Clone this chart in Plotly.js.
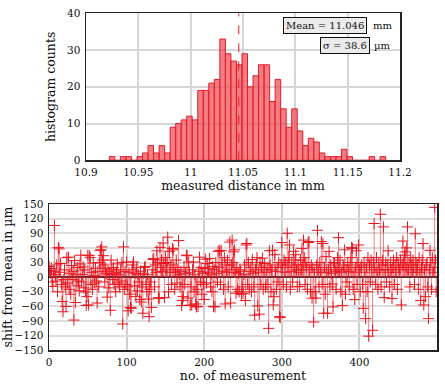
<!DOCTYPE html>
<html>
<head>
<meta charset="utf-8">
<script src="https://cdn.plot.ly/plotly-3.0.1.min.js"></script>
<style>html,body{margin:0;padding:0;background:#fff;}#chart{width:445px;height:386px;}</style>
</head>
<body>
<div id="chart"></div>
<script>
// Histogram of measured distances (mm)
const binStart = 10.9223;
const binWidth = 0.00528;
const counts = [1,0,1,1,0,1,2,4,2,4,2,9,10,11,12,11,19,19,21,22,33,29,27,26,29,20,23,26,26,16,22,14,9,14,8,4,6,5,2,1,1,1,3,1,0,0,0,1,0,1];
const meanValue = 11.046;
const sigmaValue = 38.6;
const histXTicks = [10.9, 10.95, 11, 11.05, 11.1, 11.15, 11.2];
const histXTickText = ['10.9', '10.95', '11', '11.05', '11.1', '11.15', '11.2'];

// Shift from mean (µm) for each measurement
const shifts = [
22,14,8,18,-10,-19,12,106,5,-8,25,-30,61,58,10,28,-15,-50,-71,-5,
15,-20,-60,40,-12,41,-25,8,-35,24,-5,12,-88,34,-52,6,-18,20,-8,-28,
27,45,-10,5,21,-22,15,-30,-58,-40,45,-57,44,40,-15,10,-25,29,3,-12,
18,-8,-53,12,-20,30,55,56,62,35,44,25,-10,18,8,-41,12,-22,5,-68,
35,15,-5,20,-15,8,-30,10,27,-12,5,-20,15,-8,30,-96,62,-25,12,-15,
31,-20,-69,10,-35,-62,-64,15,25,31,-18,8,-40,20,-28,5,-10,-46,12,-51,
-20,-74,8,20,22,-15,-30,5,-45,-81,-25,-10,-62,15,36,38,-20,25,10,54,
30,-42,-44,61,20,35,12,70,28,-42,40,15,30,82,-30,53,10,25,-15,59,
56,20,-25,10,35,-12,15,75,5,-20,12,-58,-48,-40,20,-15,8,45,44,-43,
31,10,-58,-20,-57,15,31,-30,5,-55,-61,-25,-60,12,41,-10,20,-35,8,-15,
-46,18,37,-12,28,10,18,38,-20,5,-30,22,-60,15,-61,30,8,-10,53,20,
55,-15,54,30,12,-25,40,-55,25,10,35,-20,15,72,-53,25,76,30,52,56,
10,-33,20,-25,8,-30,15,12,-35,-20,-33,5,25,-48,66,69,-15,30,-25,12,
20,-30,36,8,-20,-78,15,25,40,-59,10,-76,30,-15,20,39,-25,15,28,-20,
10,-15,20,-105,54,25,-30,15,55,-57,-40,46,12,-25,20,-10,30,-81,-83,25,
71,20,-15,35,10,30,-20,90,25,40,66,-25,12,30,-10,53,20,35,46,15,
-20,25,10,-19,35,15,59,25,76,40,-15,30,20,-25,71,73,15,-30,25,-43,
20,-92,10,-30,-43,25,96,15,-20,30,10,73,-15,69,-74,20,-35,42,10,-74,
15,53,-20,25,8,-14,-61,30,29,12,-25,20,40,81,15,35,-30,10,-58,25,
20,56,-35,15,-10,30,12,-20,25,40,61,59,-25,10,-46,20,54,-15,30,66,
15,-30,20,25,-15,-64,30,10,-85,20,-30,40,-121,25,-10,35,15,-109,30,110,
20,-15,40,10,-25,30,15,129,-20,25,35,103,-42,15,30,-10,25,54,10,-20,
30,15,-44,20,35,-15,25,10,40,-25,30,20,15,35,-57,25,74,30,45,52,
20,60,103,15,30,-20,40,25,10,35,20,-15,89,30,15,25,-25,40,10,-48,
20,35,69,-57,15,-40,25,30,-20,-85,15,55,30,-25,40,10,20,143,35,-30
];

const binCenters = counts.map((c, i) => binStart + (i + 0.5) * binWidth);
const idx = shifts.map((v, i) => i);
const stemX = [], stemY = [];
shifts.forEach((v, i) => { stemX.push(i, i, null); stemY.push(0, v, null); });

const serif = 'DejaVu Serif';

const traces = [
  {
    type: 'bar', x: binCenters, y: counts, width: binWidth,
    marker: {color: 'rgba(240,80,90,0.75)', line: {color: 'rgb(228,28,40)', width: 1}},
    xaxis: 'x', yaxis: 'y', hoverinfo: 'none'
  },
  {
    type: 'scatter', mode: 'lines', x: stemX, y: stemY,
    line: {color: 'rgba(235,40,50,0.6)', width: 1},
    xaxis: 'x2', yaxis: 'y2', hoverinfo: 'none', connectgaps: false
  },
  {
    type: 'scatter', mode: 'markers', x: idx, y: shifts,
    marker: {symbol: 'cross-thin-open', size: 8, color: 'rgb(235,20,30)', line: {color: 'rgb(235,20,30)', width: 1}},
    xaxis: 'x2', yaxis: 'y2', hoverinfo: 'none'
  }
];

const W = 445, H = 386;
const px = v => v / W, py = v => 1 - v / H;

const axisCommon = {
  showline: true, mirror: true, linecolor: '#222', linewidth: 1.5,
  ticks: 'outside', ticklen: 2, tickcolor: 'rgba(0,0,0,0)',
  tickfont: {family: serif, size: 10.5, color: '#111'},
  zeroline: false
};

const layout = {
  width: W, height: H,
  margin: {l: 0, r: 0, t: 0, b: 0},
  paper_bgcolor: '#fff', plot_bgcolor: '#fff',
  showlegend: false, bargap: 0,
  font: {family: serif, color: '#111'},
  xaxis: Object.assign({}, axisCommon, {
    domain: [px(86), px(400)], range: [10.9, 11.2],
    tickvals: histXTicks, ticktext: histXTickText,
    showgrid: true, gridcolor: '#d6d6d6', gridwidth: 2,
    anchor: 'y',
    title: {text: 'measured distance in mm', font: {family: serif, size: 12.5}, standoff: 3}
  }),
  yaxis: Object.assign({}, axisCommon, {
    domain: [py(160.3), py(13.3)], range: [0, 40], dtick: 10,
    showgrid: true, gridcolor: '#d6d6d6', gridwidth: 2,
    anchor: 'x',
    title: {text: 'histogram counts', font: {family: serif, size: 12.5}, standoff: 8}
  }),
  xaxis2: Object.assign({}, axisCommon, {
    domain: [px(49), px(437)], range: [0, 500], dtick: 100,
    showgrid: true, gridcolor: '#cfcfcf', gridwidth: 2,
    anchor: 'y2',
    title: {text: 'no. of measurement', font: {family: serif, size: 12.5}, standoff: 4}
  }),
  yaxis2: Object.assign({}, axisCommon, {
    domain: [py(350.3), py(204)], range: [-150, 150], dtick: 30,
    showgrid: true, gridcolor: '#dcdcdc', gridwidth: 2,
    zeroline: true, zerolinecolor: '#333', zerolinewidth: 2,
    anchor: 'x2',
    title: {text: 'shift from mean in µm', font: {family: serif, size: 12.5}, standoff: 4}
  }),
  shapes: [
    {type: 'line', xref: 'x', yref: 'y', x0: meanValue, x1: meanValue, y0: 0, y1: 40,
     line: {color: 'rgb(230,30,40)', width: 1, dash: 'dash'}}
  ],
  annotations: [
    {xref: 'paper', yref: 'paper', x: px(325), y: py(25), xanchor: 'center', yanchor: 'middle',
     text: 'Mean = ' + meanValue.toFixed(3), showarrow: false,
     font: {family: serif, size: 10, color: '#111'},
     bgcolor: '#ebebeb', bordercolor: '#111', borderwidth: 1, borderpad: 2},
    {xref: 'paper', yref: 'paper', x: px(382), y: py(25), xanchor: 'center', yanchor: 'middle',
     text: 'mm', showarrow: false, font: {family: serif, size: 10, color: '#111'}},
    {xref: 'paper', yref: 'paper', x: px(345), y: py(46), xanchor: 'center', yanchor: 'middle',
     text: 'σ = ' + sigmaValue.toFixed(1), showarrow: false,
     font: {family: serif, size: 10, color: '#111'},
     bgcolor: '#ebebeb', bordercolor: '#111', borderwidth: 1, borderpad: 2},
    {xref: 'paper', yref: 'paper', x: px(382), y: py(46), xanchor: 'center', yanchor: 'middle',
     text: 'µm', showarrow: false, font: {family: serif, size: 10, color: '#111'}}
  ]
};

Plotly.newPlot('chart', traces, layout, {staticPlot: true, displayModeBar: false});
</script>
</body>
</html>
